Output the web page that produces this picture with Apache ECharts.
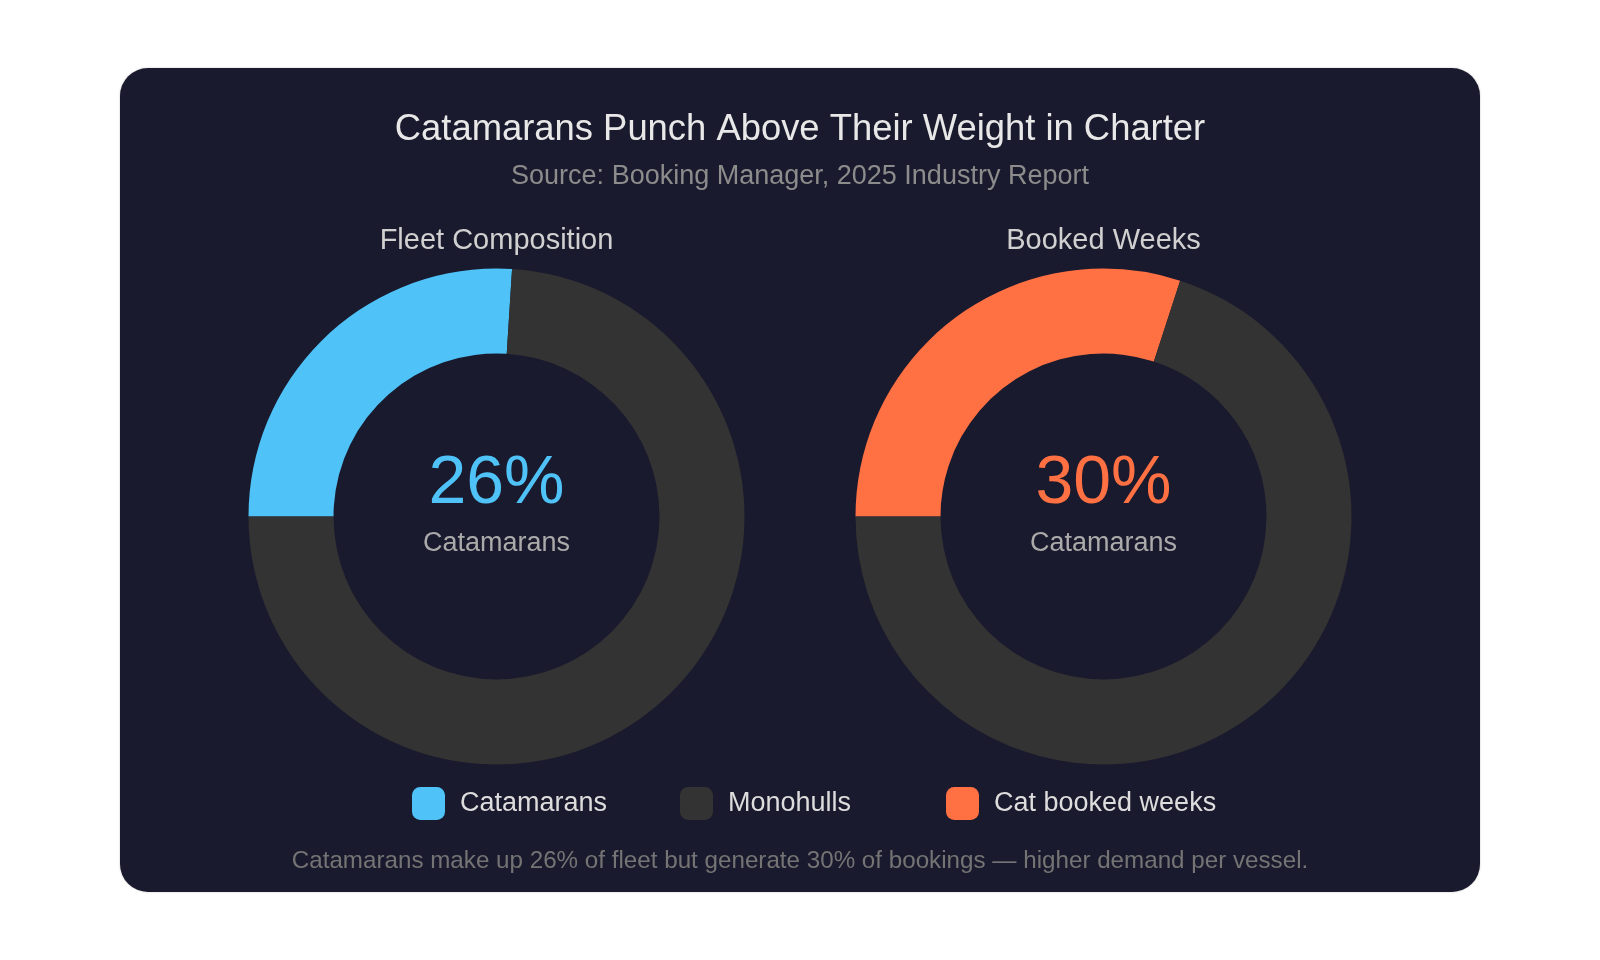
<!DOCTYPE html>
<html>
<head>
<meta charset="utf-8">
<title>Catamarans Punch Above Their Weight in Charter</title>
<script src="https://cdn.jsdelivr.net/npm/echarts@6/dist/echarts.min.js"></script>
<style>
  html, body { margin: 0; padding: 0; background: #ffffff; width: 1600px; height: 960px; overflow: hidden; }
  #card {
    position: absolute; left: 120px; top: 68px; width: 1360px; height: 824px;
    background: #1a1a2e; border-radius: 28px; overflow: hidden;
    box-shadow: 0 0 2px rgba(0, 0, 0, 0.25);
  }
  #chart { width: 100%; height: 100%; }
</style>
</head>
<body>
<div id="card"><div id="chart"></div></div>
<script>
  // fleet share vs booked-week share (percent)
  const fleetLabels = ['Catamarans', 'Monohulls'];
  const fleetValues = [26, 74];
  const bookedLabels = ['Cat booked weeks', 'Monohulls'];
  const bookedValues = [30, 70];
  const legendLabels = ['Catamarans', 'Monohulls', 'Cat booked weeks'];

  const BLUE = '#4fc3f7';
  const DARK = '#333333';
  const ORANGE = '#ff7043';
  const FONT = '"Helvetica Neue", Helvetica, Arial, "Liberation Sans", sans-serif';

  const chart = echarts.init(document.getElementById('chart'));

  const centerText = (text, x, top, size, color) => ({
    text: text,
    left: x,
    top: top,
    textAlign: 'center',
    padding: 0,
    textStyle: { color: color, fontSize: size, fontWeight: 'normal', fontFamily: FONT, lineHeight: size }
  });

  const leftX = 376.5;
  const rightX = 983.5;

  const option = {
    backgroundColor: 'transparent',
    animation: false,
    title: [
      centerText('Catamarans Punch Above Their Weight in Charter', 680, 44, 36.4, '#e8e8e8'),
      centerText('Source: Booking Manager, 2025 Industry Report', 680, 95.5, 27, '#8c8c8c'),
      centerText('Fleet Composition', leftX, 158.5, 29, '#d0d0d0'),
      centerText('Booked Weeks', rightX, 158.5, 29, '#d0d0d0'),
      centerText(fleetValues[0] + '%', leftX, 382, 68, BLUE),
      centerText(fleetLabels[0], leftX, 462.5, 27, '#aaaaaa'),
      centerText(bookedValues[0] + '%', rightX, 382, 68, ORANGE),
      centerText('Catamarans', rightX, 462.5, 27, '#aaaaaa'),
      centerText('Catamarans make up 26% of fleet but generate 30% of bookings \u2014 higher demand per vessel.', 680, 781, 24.2, '#747474')
    ],
    legend: legendLabels.map((name, i) => ({
      data: [name],
      left: [292, 560, 826][i],
      top: 719,
      padding: 0,
      itemWidth: 33,
      itemHeight: 33,
      icon: 'roundRect',
      selectedMode: false,
      textStyle: { color: '#dddddd', fontSize: 27, fontFamily: FONT, padding: [0, 0, 0, 10] }
    })),
    series: [
      {
        type: 'pie',
        center: [leftX, 448.5],
        radius: [163, 248],
        startAngle: 180,
        clockwise: true,
        label: { show: false },
        labelLine: { show: false },
        emphasis: { disabled: true },
        itemStyle: { borderWidth: 0 },
        data: fleetLabels.map((n, i) => ({ name: n, value: fleetValues[i], itemStyle: { color: i === 0 ? BLUE : DARK } }))
      },
      {
        type: 'pie',
        center: [rightX, 448.5],
        radius: [163, 248],
        startAngle: 180,
        clockwise: true,
        label: { show: false },
        labelLine: { show: false },
        emphasis: { disabled: true },
        itemStyle: { borderWidth: 0 },
        data: bookedLabels.map((n, i) => ({ name: n, value: bookedValues[i], itemStyle: { color: i === 0 ? ORANGE : DARK } }))
      }
    ]
  };

  chart.setOption(option);
</script>
</body>
</html>
